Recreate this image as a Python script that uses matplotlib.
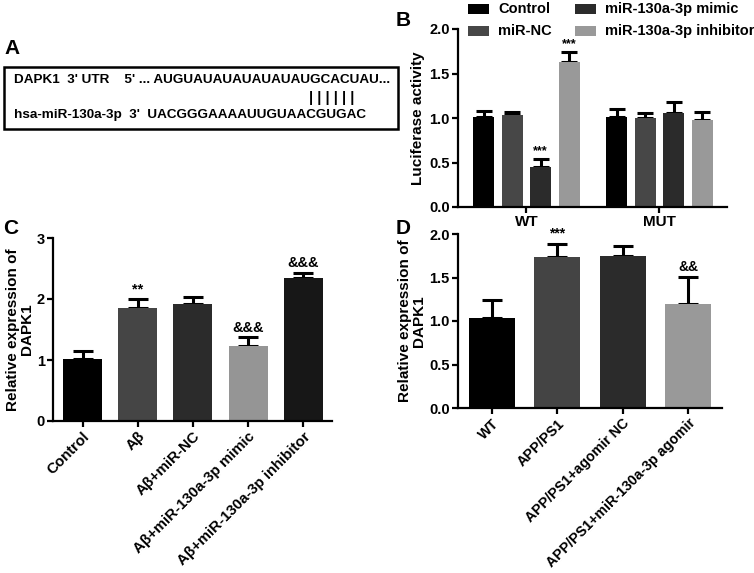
import matplotlib
matplotlib.use("Agg")
import matplotlib.pyplot as plt
from matplotlib.patches import Rectangle
import numpy as np

plt.rcParams['font.family'] = ['Liberation Sans', 'DejaVu Sans']
plt.rcParams['font.weight'] = 'bold'

# ---------------- data ----------------
b_groups = ["WT", "MUT"]
b_series = ["Control", "miR-NC", "miR-130a-3p mimic", "miR-130a-3p inhibitor"]
b_values = [[1.01, 1.01], [1.03, 1.00], [0.45, 1.06], [1.63, 0.98]]
b_errors = [[0.07, 0.09], [0.04, 0.06], [0.09, 0.12], [0.11, 0.09]]
b_marks = [["", ""], ["", ""], ["***", ""], ["***", ""]]
b_colors = ["#000000", "#474747", "#2b2b2b", "#999999"]

c_labels = ["Control", "Aβ", "Aβ+miR-NC", "Aβ+miR-130a-3p mimic", "Aβ+miR-130a-3p inhibitor"]
c_values = [1.02, 1.85, 1.91, 1.23, 2.35]
c_errors = [0.13, 0.15, 0.12, 0.14, 0.08]
c_marks = ["", "**", "", "&&&", "&&&"]
c_colors = ["#000000", "#454545", "#2b2b2b", "#959595", "#171717"]

d_labels = ["WT", "APP/PS1", "APP/PS1+agomir NC", "APP/PS1+miR-130a-3p agomir"]
d_values = [1.04, 1.73, 1.75, 1.20]
d_errors = [0.20, 0.16, 0.11, 0.31]
d_marks = ["", "***", "", "&&"]
d_colors = ["#000000", "#444444", "#2b2b2b", "#999999"]

utr_line = "DAPK1  3' UTR    5' ... AUGUAUAUAUAUAUAUGCACUAU..."
mir_line = "hsa-miR-130a-3p  3'  UACGGGAAAAUUGUAACGUGAC"
pair_line = "| | | | | |"

W, H = 754, 573
fig = plt.figure(figsize=(W / 100, H / 100), dpi=100)


def fx(px):
    return px / W


def fy(py):
    return 1 - py / H


def style_axes(ax):
    ax.set_facecolor("none")
    for s in ["top", "right"]:
        ax.spines[s].set_visible(False)
    for s in ["left", "bottom"]:
        ax.spines[s].set_linewidth(1.6)
    ax.tick_params(axis="both", width=1.6, length=4, labelsize=10.5, direction="out", pad=2)


ekw = dict(elinewidth=2.2, capthick=2.2, ecolor="black")

# ---------------- Panel A and panel letters ----------------
axA = fig.add_axes([0, 0, 1, 1], facecolor="none")
axA.set_zorder(10)
axA.set_xlim(0, W)
axA.set_ylim(H, 0)
axA.axis("off")
axA.add_patch(Rectangle((4, 67), 394, 62, fill=False, lw=1.8, ec="black"))
axA.text(14, 80, utr_line, fontsize=9.7, fontweight="bold", va="center", ha="left")
axA.text(309, 98, pair_line, fontsize=10.5, fontweight="bold", va="center", ha="left")
axA.text(14, 115, mir_line, fontsize=9.7, fontweight="bold", va="center", ha="left")
axA.text(12, 48, "A", fontsize=15, fontweight="bold", va="center", ha="center")
axA.text(403, 20, "B", fontsize=15, fontweight="bold", va="center", ha="center")
axA.text(11, 229, "C", fontsize=15, fontweight="bold", va="center", ha="center")
axA.text(403, 229, "D", fontsize=15, fontweight="bold", va="center", ha="center")

# legend for panel B (drawn as patches + text in pixel coordinates)
leg_pos = [(468, 9), (468, 31), (575, 9), (575, 31)]
for (lx, ly), name, col in zip(leg_pos, b_series, b_colors):
    axA.add_patch(Rectangle((lx, ly - 5), 21, 10, fc=col, ec="none"))
    axA.text(lx + 30, ly, name, fontsize=10.5, fontweight="bold", va="center", ha="left")

# ---------------- Panel B ----------------
axB = fig.add_axes([fx(458), fy(207), fx(727 - 458), (207 - 29) / H])
style_axes(axB)
gx = np.arange(len(b_groups))
step = 0.214
bw = 0.158
for i, name in enumerate(b_series):
    xs = gx + (i - 1.5) * step
    axB.bar(xs, b_values[i], width=bw, color=b_colors[i], label=name, zorder=2)
    axB.errorbar(xs, b_values[i], yerr=[[0] * len(xs), b_errors[i]], fmt="none",
                 capsize=5.5, zorder=1, **ekw)
    for x, v, e, m in zip(xs, b_values[i], b_errors[i], b_marks[i]):
        if m:
            axB.text(x, v + e + 0.02, m, ha="center", va="bottom", fontsize=9, fontweight="bold")
axB.set_xlim(-0.515, 1.508)
axB.set_ylim(0, 2.0)
axB.set_yticks([0, 0.5, 1.0, 1.5, 2.0])
axB.set_yticklabels(["0.0", "0.5", "1.0", "1.5", "2.0"], fontweight="bold")
axB.set_xticks(gx)
axB.set_xticklabels(b_groups, fontweight="bold", fontsize=11)
axB.set_ylabel("Luciferase activity", fontsize=11, fontweight="bold", labelpad=3)

# ---------------- Panel C ----------------
axC = fig.add_axes([fx(53), fy(421), fx(332 - 53), (421 - 238) / H])
style_axes(axC)
cx = np.arange(len(c_labels))
axC.bar(cx, c_values, width=0.706, color=c_colors, zorder=2)
axC.errorbar(cx, c_values, yerr=[[0] * len(cx), c_errors], fmt="none", capsize=7,
             zorder=1, **ekw)
for x, v, e, m in zip(cx, c_values, c_errors, c_marks):
    if m:
        axC.text(x, v + e + 0.04, m, ha="center", va="bottom", fontsize=10.5, fontweight="bold")
axC.set_xlim(-0.534, 4.516)
axC.set_ylim(0, 3)
axC.set_yticks([0, 1, 2, 3])
axC.set_yticklabels(["0", "1", "2", "3"], fontweight="bold")
axC.set_xticks(cx)
axC.set_xticklabels(c_labels, rotation=45, ha="right", rotation_mode="anchor",
                    fontsize=10.8, fontweight="bold")
axC.set_ylabel("Relative expression of\nDAPK1", fontsize=11, fontweight="bold",
               labelpad=2, linespacing=1.0)

# ---------------- Panel D ----------------
axD = fig.add_axes([fx(458), fy(408), fx(722 - 458), (408 - 234) / H])
style_axes(axD)
dx = np.arange(len(d_labels))
axD.bar(dx, d_values, width=0.704, color=d_colors, zorder=2)
axD.errorbar(dx, d_values, yerr=[[0] * len(dx), d_errors], fmt="none", capsize=7,
             zorder=1, **ekw)
for x, v, e, m in zip(dx, d_values, d_errors, d_marks):
    if m:
        axD.text(x, v + e + 0.03, m, ha="center", va="bottom", fontsize=10, fontweight="bold")
axD.set_xlim(-0.52, 3.52)
axD.set_ylim(0, 2.0)
axD.set_yticks([0, 0.5, 1.0, 1.5, 2.0])
axD.set_yticklabels(["0.0", "0.5", "1.0", "1.5", "2.0"], fontweight="bold")
axD.set_xticks(dx)
axD.set_xticklabels(d_labels, rotation=45, ha="right", rotation_mode="anchor",
                    fontsize=10.2, fontweight="bold")
axD.set_ylabel("Relative expression of\nDAPK1", fontsize=11, fontweight="bold",
               labelpad=2, linespacing=1.0)

fig.savefig("out.png", dpi=100)
